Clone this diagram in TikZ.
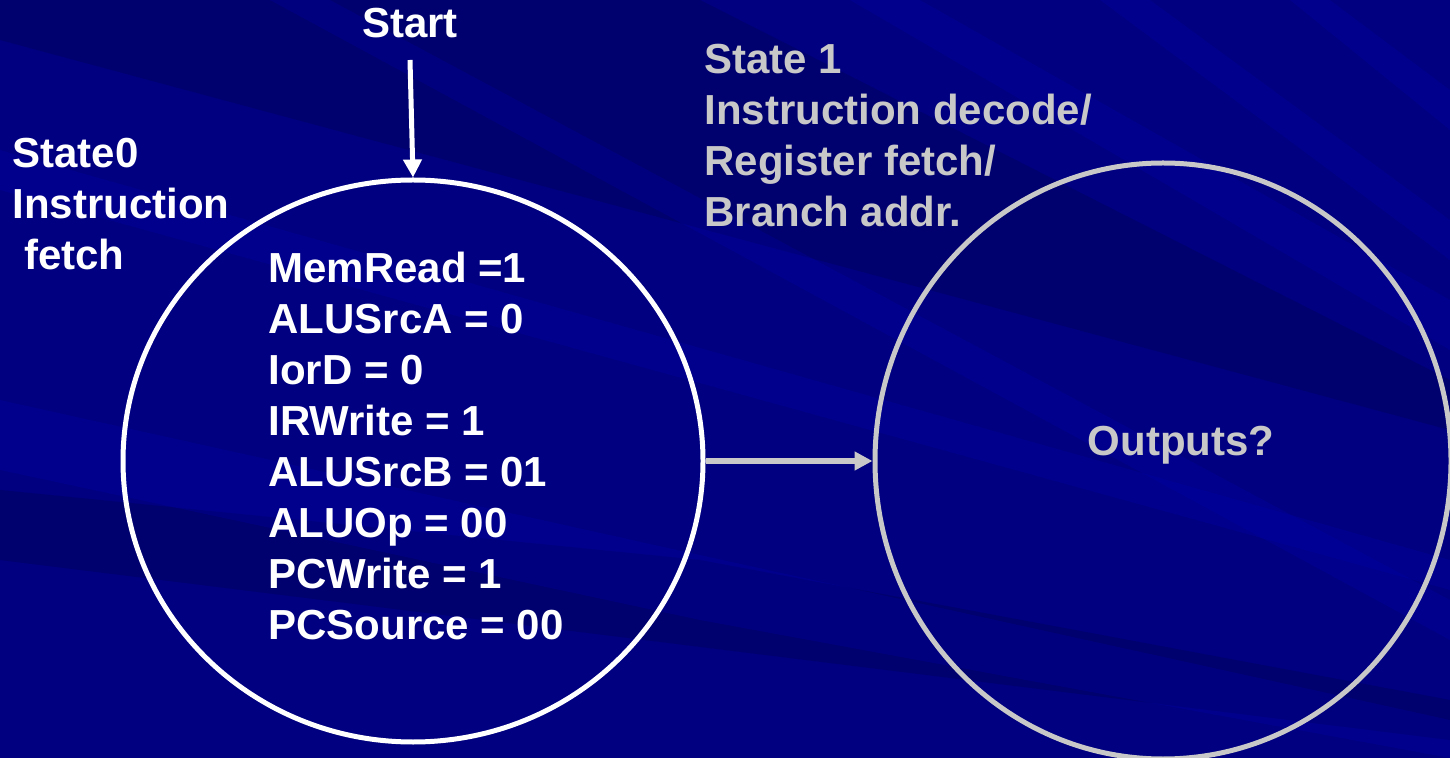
\documentclass[tikz,border=0pt]{standalone}
\usepackage{fontspec}
\setmainfont{Liberation Sans}
\usetikzlibrary{shapes.geometric,arrows.meta}
\definecolor{navy}{HTML}{000080}
\definecolor{lightband}{HTML}{0000B0}
\definecolor{darkband}{HTML}{00005A}
\definecolor{softgray}{HTML}{C8C8C8}
\tikzset{
  label text/.style={font=\bfseries\fontsize{21}{25.5}\selectfont, inner sep=0pt, align=left},
  state/.style={ellipse, inner sep=0pt, line width=2.5pt},
  band/.style={fill=lightband, opacity=0.25},
  shadow band/.style={fill=darkband, opacity=0.45},
}
\begin{document}
\begin{tikzpicture}[x=0.5pt,y=-0.5pt]
\useasboundingbox (0,0) rectangle (1450,758);
% background with diagonal streaks
\fill[navy] (0,0) rectangle (1450,758);
\fill[shadow band] (0,0) -- (700,0) -- (1450,380) -- (1450,430) -- (0,40) -- cycle;
\fill[shadow band] (0,490) -- (700,560) -- (1450,700) -- (1450,740) -- (0,560) -- cycle;
\fill[band] (0,400) -- (700,555) -- (1450,720) -- (1450,758) -- (700,620) -- (0,470) -- cycle;
\fill[band] (0,150) -- (1450,560) -- (1450,590) -- (0,190) -- cycle;
\fill[band] (330,0) -- (1450,600) -- (1450,640) -- (270,0) -- cycle;
\fill[band] (920,0) -- (1450,300) -- (1450,350) -- (850,0) -- cycle;
\fill[band] (1150,0) -- (1450,220) -- (1450,260) -- (1100,0) -- cycle;
\fill[band] (1330,0) -- (1450,90) -- (1450,130) -- (1290,0) -- cycle;

% states
\node[state, draw=white, minimum width=290pt, minimum height=281pt] (s0) at (413,461) {};
\node[state, draw=softgray, minimum width=288pt, minimum height=298pt] (s1) at (1163,461) {};

% start arrow
\node[label text, text=white, anchor=base] (start) at (410,38) {Start};
\coordinate (startTop) at (410,60);
\draw[white, line width=2.5pt, -{Triangle[length=9pt,width=9pt]}] (startTop) -- (s0.north);

% transition
\draw[softgray, line width=3pt, -{Triangle[length=9pt,width=9pt]}] (s0.east) -- (s1.west);

% labels
\node[label text, text=white, anchor=north west] (s0name) at (12,138) {State0\\Instruction\\\ fetch};
\node[label text, text=white, anchor=north west] (s0out) at (268,252)
  {MemRead =1\\ALUSrcA = 0\\IorD = 0\\IRWrite = 1\\ALUSrcB = 01\\ALUOp = 00\\PCWrite = 1\\PCSource = 00};
\node[label text, text=softgray, anchor=north west] (s1name) at (704,44)
  {State 1\\Instruction decode/\\Register fetch/\\Branch addr.};
\node[label text, text=softgray, anchor=base] (s1out) at (1181,456) {Outputs?};
\end{tikzpicture}
\end{document}
